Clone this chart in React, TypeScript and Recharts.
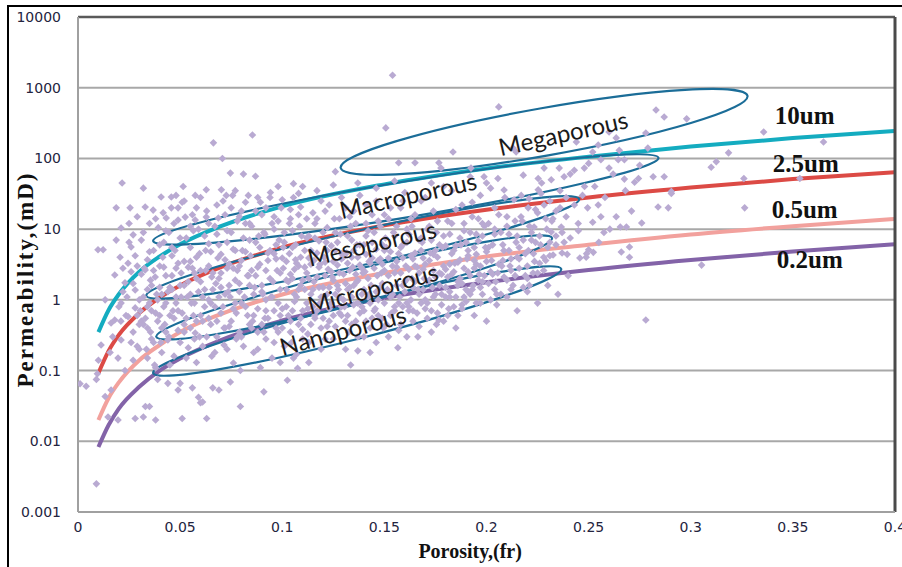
import React from "react";
import {
  ComposedChart,
  Line,
  Scatter,
  XAxis,
  YAxis,
  ZAxis,
  CartesianGrid,
  ReferenceLine,
  ReferenceDot,
  Label,
} from "recharts";

// axis ticks
const xTicks = [0, 0.05, 0.1, 0.15, 0.2, 0.25, 0.3, 0.35, 0.4];
const yTicks = [0.001, 0.01, 0.1, 1, 10, 100, 1000, 10000];

// pore-throat radius curves, permeability (mD) read at these porosities
const curveX = [0.01, 0.015, 0.02, 0.03, 0.04, 0.05, 0.07, 0.1, 0.15, 0.2, 0.25, 0.3, 0.35, 0.4];
const k10um = [0.35, 0.72, 1.2, 2.5, 4.1, 6.1, 11, 21, 43, 72, 106, 147, 194, 245];
const k2_5um = [0.092, 0.19, 0.32, 0.65, 1.08, 1.6, 2.9, 5.5, 11.3, 18.8, 28, 38.7, 51, 64];
const k0_5um = [0.02, 0.041, 0.068, 0.14, 0.23, 0.35, 0.63, 1.19, 2.4, 4.1, 6.0, 8.4, 11, 13.9];
const k0_2um = [0.0083, 0.017, 0.029, 0.059, 0.1, 0.148, 0.27, 0.51, 1.06, 1.77, 2.64, 3.66, 4.83, 6.1];

const curveNames = ["10um", "2.5um", "0.5um", "0.2um"];
const curveColors = ["#14acc0", "#dc4a45", "#f2a19d", "#8363a8"];
const curveLabelX = [0.3558, 0.3563, 0.3558, 0.3583];
const curveLabelK = [399, 86, 18.7, 3.67];

// rock type zones: ellipse tips (porosity, mD)
const zoneNames = ["Megaporous", "Macroporous", "Mesoporous", "Microporous", "Nanoporous"];
const zoneStart = [[0.1286, 73.4], [0.0368, 6.8], [0.0334, 1.14], [0.0383, 0.3], [0.0368, 0.092]];
const zoneEnd = [[0.3278, 766], [0.2842, 102], [0.2454, 26.7], [0.2321, 7.5], [0.2366, 2.74]];
const zoneLabelPos = [[0.2375, 230], [0.1615, 30.5], [0.1438, 6.4], [0.1443, 1.47], [0.1296, 0.375]];
const zoneAngle = [-12.5, -12.5, -13, -15, -15];

// core samples [porosity, permeability mD]
const samplesA = [
  [0.001, 0.065], [0.004, 0.06], [0.009, 0.0025], [0.009, 0.075], [0.0095, 0.09], [0.01, 0.14],
  [0.0098, 5.1], [0.0123, 5.1], [0.0113, 0.23], [0.0133, 1.0], [0.0133, 0.043], [0.0147, 0.022],
  [0.0157, 0.18], [0.0162, 0.47], [0.0162, 0.053], [0.017, 0.3], [0.018, 0.52], [0.018, 2.25],
  [0.0187, 7], [0.0187, 20], [0.0196, 0.15], [0.0196, 0.02], [0.02, 0.8], [0.0206, 4],
  [0.0211, 10.4], [0.0211, 0.9], [0.0211, 0.27], [0.0216, 45], [0.022, 1.3], [0.023, 1.74],
  [0.023, 0.1], [0.0235, 0.6], [0.0245, 3.3], [0.0245, 0.58], [0.025, 12], [0.0255, 20],
  [0.026, 5.6], [0.026, 2.5], [0.027, 8.3], [0.027, 0.14], [0.027, 0.35], [0.028, 1.38],
  [0.028, 0.77], [0.028, 0.021], [0.029, 15], [0.029, 3], [0.029, 0.22], [0.03, 1.0], [0.03, 0.45],
];
const samplesB = [
  [0.031, 7], [0.031, 0.5], [0.032, 38], [0.032, 1.1], [0.032, 0.022], [0.0329, 20.6], [0.0329, 2.65],
  [0.033, 0.031], [0.0335, 0.2], [0.034, 3.7], [0.034, 0.8], [0.035, 0.031], [0.035, 12], [0.0355, 0.35],
  [0.036, 1.6], [0.0368, 18.6], [0.037, 5], [0.0375, 0.12], [0.0378, 2.1], [0.038, 0.02], [0.038, 0.65],
  [0.039, 0.075], [0.0393, 10.5], [0.04, 3], [0.0405, 0.25], [0.0407, 28.5], [0.041, 1.2], [0.0417, 17],
  [0.042, 6.5], [0.0425, 0.45], [0.043, 2.2], [0.0432, 14.4], [0.044, 0.27], [0.044, 0.066], [0.0445, 9],
  [0.045, 1.5], [0.0457, 28.5], [0.0457, 20], [0.046, 4.2], [0.0465, 0.7], [0.047, 0.16], [0.048, 30],
  [0.048, 2.8], [0.049, 20], [0.049, 13.5], [0.049, 0.37], [0.049, 0.053], [0.05, 0.066], [0.05, 7.5],
  [0.0505, 1.1], [0.051, 0.021], [0.0515, 40], [0.052, 3.5], [0.0525, 14.8], [0.053, 0.55], [0.054, 0.21],
  [0.054, 1.8], [0.055, 5.5], [0.0555, 0.9], [0.056, 0.057], [0.0565, 9.5], [0.057, 2.4], [0.0574, 30],
  [0.0574, 13.5], [0.0574, 0.34], [0.058, 20], [0.058, 0.13], [0.059, 0.042], [0.059, 1.3], [0.0595, 4.5],
  [0.06, 0.035], [0.06, 0.6],
];
const samplesC = [
  [0.061, 0.036], [0.062, 8], [0.0625, 2.6], [0.063, 0.021], [0.063, 0.3], [0.0628, 36], [0.0628, 14.8],
  [0.064, 1.0], [0.065, 4.8], [0.0655, 0.16], [0.0663, 166], [0.066, 0.057], [0.067, 11], [0.0675, 1.7],
  [0.068, 0.5], [0.0687, 14.4], [0.069, 0.053], [0.069, 6], [0.07, 2.4], [0.0702, 36], [0.0707, 100],
  [0.071, 0.8], [0.0715, 0.23], [0.072, 3.7], [0.0726, 30], [0.073, 9.5], [0.0735, 1.3], [0.074, 0.42],
  [0.0746, 62], [0.0746, 0.069], [0.075, 20], [0.0757, 30], [0.0761, 0.128], [0.076, 5.2], [0.077, 1.9],
  [0.0775, 0.65], [0.078, 13], [0.079, 3], [0.0795, 0.031], [0.0795, 0.1], [0.08, 0.3], [0.081, 60],
  [0.081, 7.5], [0.0815, 1.1], [0.082, 24], [0.083, 2.2], [0.0834, 30], [0.084, 0.45], [0.0845, 4.2],
  [0.0854, 214], [0.085, 11], [0.086, 0.18], [0.0865, 1.5], [0.0869, 56], [0.087, 6.5], [0.088, 0.75],
  [0.0893, 24], [0.0893, 0.11], [0.089, 3.2], [0.09, 16], [0.0905, 1.2], [0.091, 0.05], [0.091, 0.35],
  [0.0915, 8.5], [0.092, 2.6], [0.093, 0.55], [0.0942, 33], [0.094, 5], [0.095, 12], [0.0955, 1.8],
  [0.096, 0.25], [0.097, 3.8], [0.098, 40], [0.098, 0.9], [0.0985, 7], [0.099, 0.13], [0.0995, 20],
];
const samplesD = [
  [0.1, 0.4], [0.1005, 2.8], [0.101, 9], [0.1025, 0.073], [0.102, 1.4], [0.103, 0.6], [0.1035, 4.5],
  [0.104, 14], [0.1045, 0.25], [0.105, 2], [0.1055, 44], [0.1055, 28], [0.1055, 0.15], [0.106, 0.95],
  [0.1065, 6], [0.107, 3.3], [0.1075, 0.108], [0.108, 0.45], [0.1085, 11], [0.109, 20.6], [0.109, 1.6],
  [0.11, 40], [0.11, 0.7], [0.111, 5], [0.112, 2.4], [0.1125, 0.33], [0.113, 0.13], [0.113, 8],
  [0.114, 1.2], [0.115, 17], [0.1155, 3.6], [0.116, 0.55], [0.117, 2.1], [0.118, 6.8], [0.1185, 0.9],
  [0.119, 25], [0.12, 1.5], [0.1205, 4], [0.121, 0.28], [0.122, 10.5], [0.1225, 2.7], [0.123, 0.75],
  [0.124, 5.8], [0.125, 1.9], [0.1255, 14], [0.126, 65], [0.126, 0.42], [0.127, 3.1], [0.128, 1.1],
  [0.1285, 8.5], [0.129, 0.6], [0.13, 2.3], [0.131, 20], [0.1315, 4.6], [0.132, 1.4], [0.1325, 0.35],
  [0.1335, 0.12], [0.134, 7], [0.1345, 2.9], [0.135, 0.85], [0.136, 12], [0.1365, 1.8], [0.137, 0.19],
  [0.137, 4], [0.138, 30], [0.139, 1.2], [0.14, 6], [0.1405, 2.5], [0.141, 0.5], [0.142, 9.5],
  [0.1425, 3.5], [0.143, 0.18], [0.1435, 1.6], [0.144, 16], [0.145, 0.7], [0.146, 5.2], [0.1465, 2.2],
  [0.147, 1], [0.148, 11], [0.149, 3.2], [0.1495, 0.4],
];
const samplesE = [
  [0.1505, 7.5], [0.1507, 270], [0.151, 1.3], [0.152, 3.9], [0.153, 20], [0.1535, 0.65], [0.154, 1500],
  [0.155, 2.4], [0.156, 11], [0.1566, 0.21], [0.157, 87], [0.157, 0.37], [0.158, 5.5], [0.159, 1.6],
  [0.16, 33], [0.1605, 3], [0.161, 0.9], [0.162, 8.5], [0.163, 14], [0.1635, 2], [0.164, 0.5],
  [0.165, 87], [0.165, 4.6], [0.1664, 0.3], [0.167, 1.2], [0.168, 25], [0.1685, 6.5], [0.169, 2.7],
  [0.17, 0.75], [0.171, 10], [0.172, 3.6], [0.173, 45], [0.1735, 1.5], [0.174, 18], [0.175, 5],
  [0.1755, 0.45], [0.1767, 87], [0.1767, 0.52], [0.1777, 73], [0.178, 2.3], [0.179, 8], [0.18, 1.1],
  [0.181, 13], [0.182, 3.2], [0.183, 35], [0.1836, 123], [0.184, 0.8], [0.185, 5.8], [0.186, 0.6],
  [0.187, 2], [0.188, 22], [0.189, 9.5], [0.19, 1.4], [0.191, 4.2], [0.192, 55], [0.1924, 73],
  [0.193, 15], [0.194, 2.8], [0.195, 0.9], [0.196, 6.8], [0.197, 30], [0.198, 1.8], [0.1988, 55], [0.199, 11],
];
const samplesF = [
  [0.2, 3.5], [0.201, 12], [0.202, 38], [0.202, 1.0], [0.203, 6], [0.204, 20], [0.2045, 1.8],
  [0.2056, 52], [0.206, 535], [0.207, 9], [0.2075, 3], [0.2086, 35.8], [0.2086, 2.1], [0.21, 15],
  [0.211, 5], [0.212, 1.4], [0.213, 140], [0.2135, 26], [0.2145, 123], [0.215, 8], [0.216, 2.8],
  [0.2169, 15], [0.218, 58], [0.219, 4.5], [0.2204, 20], [0.2209, 27], [0.221, 1.6], [0.2228, 2.4],
  [0.2233, 10.7], [0.224, 6.5], [0.2253, 52], [0.2253, 36], [0.226, 3.3], [0.2267, 32], [0.2282, 73],
  [0.2282, 22], [0.229, 14], [0.23, 5.5], [0.2317, 50], [0.2317, 9.1], [0.2326, 4.3], [0.234, 18],
  [0.2356, 73], [0.2366, 10.7], [0.237, 4.6], [0.238, 55], [0.239, 28], [0.2395, 4.4], [0.241, 7.5],
  [0.243, 68], [0.244, 171], [0.2449, 12], [0.2457, 3.9], [0.2479, 73], [0.248, 40], [0.249, 4.5], [0.2495, 20],
];
const samplesG = [
  [0.2488, 4.0], [0.25, 5.1], [0.2523, 4.7], [0.252, 123], [0.252, 12.5], [0.2547, 155], [0.2547, 22],
  [0.256, 96], [0.256, 15], [0.2575, 9], [0.26, 237], [0.26, 73], [0.2604, 10], [0.2635, 195],
  [0.2635, 15], [0.2645, 96], [0.2655, 10.7], [0.266, 4.75], [0.2675, 51], [0.2675, 96], [0.2685, 10.7],
  [0.27, 4], [0.27, 5.6], [0.2725, 46], [0.2744, 52], [0.276, 12.2], [0.278, 229], [0.278, 0.52],
  [0.2816, 55], [0.283, 485], [0.284, 20.6], [0.287, 386], [0.287, 55], [0.289, 20], [0.2905, 34],
  [0.2905, 32], [0.298, 363], [0.3053, 3.1], [0.31, 75], [0.3125, 90], [0.3185, 120], [0.326, 52],
  [0.3264, 20], [0.3357, 237], [0.3534, 52], [0.365, 171],
];
// dense middle of the cloud
const samplesCore = [
  [0.08, 0.9], [0.082, 4.8], [0.084, 1.6], [0.086, 0.6], [0.088, 2.9], [0.09, 0.45], [0.092, 1.0],
  [0.094, 2], [0.096, 0.7], [0.097, 6], [0.099, 1.4], [0.1, 3.9], [0.102, 0.8], [0.104, 2.3],
  [0.105, 5.5], [0.106, 1.2], [0.108, 3], [0.109, 0.55], [0.11, 1.9], [0.112, 0.9], [0.113, 3.9],
  [0.114, 0.45], [0.115, 1.4], [0.116, 7.5], [0.117, 0.7], [0.118, 2.9], [0.119, 1.1], [0.12, 0.55],
  [0.121, 2.2], [0.122, 5], [0.123, 1.5], [0.124, 0.9], [0.125, 3.5], [0.126, 1.2], [0.127, 6.5],
  [0.128, 2.4], [0.129, 0.8], [0.13, 4], [0.131, 1.7], [0.132, 0.6], [0.133, 2.6], [0.134, 1.1],
  [0.135, 5], [0.136, 0.5], [0.137, 1.9], [0.138, 3.1], [0.139, 0.8], [0.14, 1.4], [0.141, 4.4],
  [0.142, 2], [0.143, 0.9], [0.144, 6.5], [0.145, 2.8], [0.146, 1.3], [0.147, 0.6], [0.148, 3.8],
  [0.149, 1.7], [0.15, 0.9], [0.151, 5.5], [0.152, 2.2], [0.153, 1.1], [0.154, 3], [0.155, 0.7],
  [0.156, 1.6], [0.157, 4.5], [0.158, 2.4], [0.159, 0.8], [0.16, 1.3], [0.161, 6.5], [0.162, 2.7],
  [0.163, 1.0], [0.164, 3.8], [0.165, 1.8], [0.166, 0.65], [0.167, 2.4], [0.168, 5], [0.169, 1.4],
  [0.17, 3.2], [0.171, 0.9], [0.172, 1.9], [0.173, 7], [0.174, 2.6], [0.175, 1.2], [0.176, 4],
  [0.177, 1.6], [0.178, 0.85], [0.179, 3], [0.18, 5.8], [0.181, 2.1], [0.182, 1.3], [0.183, 4.5],
  [0.184, 2.5], [0.185, 1.1], [0.186, 3.4], [0.187, 7.5], [0.188, 1.7], [0.189, 2.8], [0.19, 0.95],
  [0.191, 5], [0.192, 2.2], [0.193, 1.4], [0.194, 3.6], [0.195, 8.5], [0.196, 1.9], [0.197, 3],
  [0.198, 1.2], [0.2, 4.8], [0.202, 2.5], [0.204, 1.4], [0.206, 3.2], [0.208, 6], [0.21, 1.9],
  [0.212, 3.8], [0.214, 2.2], [0.216, 5.5], [0.218, 1.5], [0.22, 3], [0.222, 7], [0.225, 2.4],
  [0.228, 4], [0.231, 6.5],
];
const samplesLowCore = [
  [0.03, 0.2], [0.032, 0.45], [0.034, 0.15], [0.035, 0.9], [0.036, 0.28], [0.038, 0.11], [0.039, 0.5],
  [0.04, 1.5], [0.041, 0.18], [0.042, 0.8], [0.043, 0.35], [0.045, 0.12], [0.046, 2.2], [0.047, 0.55],
  [0.048, 1.1], [0.05, 0.25], [0.051, 0.65], [0.052, 1.6], [0.053, 0.15], [0.055, 0.4], [0.056, 2.8],
  [0.057, 0.9], [0.058, 0.5], [0.06, 1.8], [0.061, 0.22], [0.062, 0.8], [0.064, 3], [0.065, 0.45],
  [0.066, 1.4], [0.068, 0.3], [0.069, 2], [0.07, 0.65], [0.072, 1.2], [0.073, 0.2], [0.074, 3.2],
  [0.075, 0.5], [0.077, 0.9], [0.078, 2.6], [0.079, 0.35],
];
const samplesFillLow = [
  [0.021, 0.5], [0.022, 2.8], [0.024, 1.1], [0.025, 6.5], [0.026, 0.25], [0.027, 1.7], [0.028, 4.2],
  [0.029, 0.6], [0.031, 2.3], [0.032, 9], [0.033, 0.55], [0.034, 1.4], [0.035, 4.8], [0.036, 0.7],
  [0.037, 2.6], [0.038, 14], [0.039, 1.0], [0.04, 6], [0.041, 0.4], [0.042, 2.9], [0.043, 9.5],
  [0.044, 1.3], [0.045, 0.6], [0.046, 5.5], [0.047, 12], [0.048, 0.9], [0.049, 3.3], [0.05, 1.6],
  [0.051, 24], [0.052, 0.45], [0.053, 7.5], [0.054, 2.9], [0.055, 1.2], [0.056, 16], [0.057, 0.28],
  [0.058, 4], [0.059, 10], [0.06, 2.6], [0.061, 0.5], [0.062, 1.4], [0.063, 18], [0.064, 6.2],
  [0.065, 0.9], [0.066, 2.4], [0.067, 0.18], [0.068, 8.5], [0.069, 1.1], [0.07, 4.4], [0.071, 25],
  [0.072, 0.4], [0.073, 2.8], [0.074, 1.6], [0.075, 9], [0.076, 0.75], [0.077, 5], [0.078, 0.3],
  [0.079, 15], [0.079, 1.3],
];
const samplesFillMid = [
  [0.08, 3.6], [0.081, 0.22], [0.082, 12], [0.083, 0.6], [0.084, 7], [0.085, 2.6], [0.086, 1.2],
  [0.087, 18], [0.088, 0.35], [0.089, 5.5], [0.09, 1.6], [0.091, 9], [0.092, 0.7], [0.093, 3.6],
  [0.094, 28], [0.095, 1.1], [0.096, 4.5], [0.097, 0.4], [0.098, 13], [0.099, 2.4], [0.1, 0.75],
  [0.101, 6.5], [0.102, 3.5], [0.103, 1.8], [0.104, 0.35], [0.105, 9.5], [0.106, 2.7], [0.107, 1.1],
  [0.108, 16], [0.109, 4], [0.11, 0.28], [0.111, 1.4], [0.112, 7.5], [0.113, 2], [0.114, 3.2],
  [0.115, 0.8], [0.116, 12], [0.117, 4.6], [0.118, 1.5], [0.119, 0.4], [0.12, 9], [0.121, 3.4],
  [0.122, 1.2], [0.123, 22], [0.124, 2.5], [0.125, 0.6], [0.126, 5], [0.127, 1.6], [0.128, 14],
  [0.129, 3.8], [0.13, 1], [0.131, 0.5], [0.132, 8], [0.133, 1.5], [0.134, 4], [0.135, 18],
  [0.136, 2.3], [0.137, 0.9], [0.138, 6], [0.139, 2.8], [0.14, 0.3], [0.141, 12], [0.142, 1.1],
  [0.143, 3.3], [0.144, 0.55], [0.145, 9], [0.146, 25], [0.147, 3.6], [0.148, 1.5], [0.149, 6],
  [0.15, 2.6], [0.151, 0.45], [0.152, 14], [0.153, 4.8], [0.154, 1.2], [0.155, 8], [0.156, 3.5],
  [0.157, 0.9], [0.158, 20], [0.159, 3.9], [0.16, 1.8],
];
const samplesFillHigh = [
  [0.161, 10], [0.162, 0.8], [0.163, 4.2], [0.164, 1.5], [0.165, 16], [0.166, 2.9], [0.167, 7],
  [0.168, 0.9], [0.169, 3.9], [0.17, 28], [0.171, 1.8], [0.172, 11], [0.173, 0.7], [0.174, 4.4],
  [0.175, 2.1], [0.176, 13], [0.177, 6], [0.178, 1.2], [0.179, 40], [0.18, 2.7], [0.181, 0.6],
  [0.182, 8.5], [0.183, 2.3], [0.184, 5], [0.185, 19], [0.186, 1.6], [0.187, 3.7], [0.188, 0.85],
  [0.189, 12], [0.19, 6.5], [0.191, 2.5], [0.192, 1.2], [0.193, 24], [0.194, 5.5], [0.195, 3.2],
  [0.196, 14], [0.197, 1.5], [0.198, 8], [0.199, 2.2], [0.2, 45], [0.201, 5.5], [0.203, 2.3],
  [0.204, 10], [0.205, 1.2], [0.206, 16], [0.208, 3.6], [0.209, 28], [0.211, 8.5], [0.212, 2.6],
  [0.214, 13], [0.215, 4], [0.217, 30], [0.218, 7], [0.22, 2], [0.221, 11], [0.223, 4.5],
  [0.224, 19], [0.226, 8], [0.227, 45], [0.229, 3.6], [0.231, 25], [0.232, 13], [0.234, 6],
  [0.236, 35], [0.237, 9], [0.239, 15], [0.241, 60], [0.243, 22], [0.245, 9.5], [0.247, 30],
  [0.25, 85], [0.253, 40], [0.255, 6.5], [0.258, 28], [0.262, 60], [0.265, 130], [0.268, 35],
  [0.271, 18], [0.275, 80], [0.279, 140],
];
const samplesDenseBand = [
  [0.0855, 0.5], [0.087, 2.2], [0.0885, 8], [0.09, 1.3], [0.0915, 0.55], [0.093, 4.6], [0.0945, 1.1],
  [0.096, 10], [0.0975, 2.6], [0.099, 0.6], [0.1005, 5.5], [0.102, 1.9], [0.1035, 12], [0.105, 0.7],
  [0.1065, 3.7], [0.108, 1.4], [0.1095, 8], [0.111, 2.9], [0.1125, 0.75], [0.114, 5], [0.1155, 1.8],
  [0.117, 14], [0.1185, 3.2], [0.12, 1.1], [0.1215, 6.5], [0.123, 0.5], [0.1245, 2.1], [0.126, 9],
  [0.1275, 1.4], [0.129, 4.5], [0.1305, 0.8], [0.132, 3.3], [0.1335, 11], [0.135, 1.6], [0.1365, 6],
  [0.138, 0.65], [0.1395, 2.4], [0.141, 8], [0.1425, 1.2], [0.144, 3.9], [0.1455, 0.75], [0.147, 13],
  [0.1485, 2.4], [0.15, 5], [0.1515, 1.4], [0.153, 0.6], [0.1545, 9], [0.156, 2.9], [0.1575, 1.1],
  [0.159, 6], [0.1605, 1.9], [0.162, 0.7], [0.1635, 11], [0.165, 3], [0.1665, 1.4], [0.168, 7.5],
  [0.1695, 2], [0.171, 0.55], [0.1725, 4.6], [0.174, 1.1], [0.1755, 9], [0.177, 2.4], [0.1785, 5.5],
  [0.18, 1.5], [0.1815, 0.75], [0.183, 12], [0.1845, 3.3], [0.186, 1.8], [0.1875, 6], [0.189, 1.1],
  [0.1905, 3.8], [0.192, 9], [0.1935, 1.6], [0.195, 4.4], [0.1965, 2.3], [0.198, 12], [0.1995, 5.5],
  [0.201, 1.7], [0.2025, 3.6], [0.204, 8.5], [0.2055, 2.4], [0.207, 1.2], [0.2085, 5], [0.21, 11],
  [0.2115, 3], [0.213, 1.6], [0.2145, 6.5], [0.216, 3.8], [0.2175, 13], [0.219, 2.2], [0.2205, 5],
  [0.222, 9], [0.2235, 3.5], [0.225, 17], [0.2265, 6], [0.228, 2.6], [0.2295, 10], [0.231, 4.2],
  [0.2325, 14], [0.234, 8], [0.236, 20], [0.238, 6.5],
];
const samplesLowBand = [
  [0.0305, 0.7], [0.0325, 2.8], [0.034, 0.4], [0.0355, 1.9], [0.037, 0.25], [0.0385, 1.2], [0.04, 0.6],
  [0.0415, 4], [0.043, 0.9], [0.0445, 0.3], [0.046, 1.4], [0.0475, 5], [0.049, 0.7], [0.0505, 2.4],
  [0.052, 0.35], [0.0535, 1.1], [0.055, 3.5], [0.0565, 0.6], [0.058, 2], [0.0595, 0.3], [0.061, 1.1],
  [0.0625, 5], [0.064, 0.55], [0.0655, 2.1], [0.067, 0.8], [0.0685, 3.9], [0.07, 1.5], [0.0715, 0.4],
  [0.073, 6.5], [0.0745, 1.1], [0.076, 2.8], [0.0775, 0.28], [0.079, 1.7], [0.0805, 5], [0.082, 0.8],
  [0.0835, 2.2], [0.085, 0.4],
];
const samplesUpperBand = [
  [0.052, 25], [0.055, 11], [0.06, 28], [0.064, 12], [0.068, 22], [0.072, 16], [0.077, 35], [0.08, 18],
  [0.084, 12], [0.088, 28], [0.092, 20], [0.096, 15], [0.1, 26], [0.104, 19], [0.108, 32], [0.112, 14],
  [0.117, 35], [0.121, 18], [0.125, 42], [0.129, 28], [0.133, 15], [0.137, 45], [0.141, 22], [0.146, 38],
  [0.15, 16], [0.155, 48], [0.159, 25],
];
const samplesLowerEdge = [
  [0.088, 0.2], [0.092, 0.28], [0.095, 0.15], [0.098, 0.35], [0.101, 0.22], [0.104, 0.5], [0.107, 0.17],
  [0.11, 0.38], [0.113, 0.25], [0.116, 0.6], [0.119, 0.2], [0.122, 0.42], [0.125, 0.28], [0.128, 0.65],
  [0.131, 0.2], [0.134, 0.45], [0.137, 0.3], [0.14, 0.7], [0.143, 0.4], [0.146, 0.25], [0.149, 0.55],
  [0.152, 0.3], [0.155, 0.8], [0.158, 0.45], [0.161, 0.3], [0.164, 0.7], [0.167, 0.42], [0.17, 1.0],
  [0.173, 0.35], [0.176, 0.65], [0.179, 0.5], [0.182, 1.1], [0.185, 0.4], [0.188, 0.75], [0.191, 1.3],
  [0.194, 0.6], [0.197, 0.9], [0.2, 0.5], [0.205, 0.85], [0.21, 1.1], [0.215, 0.7], [0.22, 1.3],
  [0.225, 0.9], [0.23, 1.6], [0.235, 1.2], [0.24, 2.2],
];

const sampleData = [
  samplesA, samplesB, samplesC, samplesD, samplesE, samplesF, samplesG,
  samplesCore, samplesLowCore, samplesFillLow, samplesFillMid, samplesFillHigh,
  samplesDenseBand, samplesLowBand, samplesUpperBand, samplesLowerEdge,
]
  .flat()
  .map(([x, k]) => ({ x, k }));

const curveData = [k10um, k2_5um, k0_5um, k0_2um].map((ks) =>
  curveX.map((x, i) => ({ x, k: ks[i] }))
);

const tickStyle = { fontFamily: "DejaVu Sans", fontSize: 14, fill: "#24243e" };

// small lavender diamond used for each sample
const SampleMark = (p: any) => {
  if (p.cx == null || p.cy == null) return null;
  const s = 3.8;
  return (
    <path
      d={`M${p.cx},${p.cy - s}L${p.cx + s},${p.cy}L${p.cx},${p.cy + s}L${p.cx - s},${p.cy}Z`}
      fill="#b9aad2"
    />
  );
};

// ellipse drawn between two tips given by the reference segment
const zoneShape = (ratio: number) => (p: any) => {
  const { x1, y1, x2, y2 } = p;
  if ([x1, y1, x2, y2].some((v) => v == null || isNaN(v))) return null;
  const cx = (x1 + x2) / 2;
  const cy = (y1 + y2) / 2;
  const rx = Math.hypot(x2 - x1, y2 - y1) / 2;
  const ang = (Math.atan2(y2 - y1, x2 - x1) * 180) / Math.PI;
  return (
    <ellipse
      cx={cx}
      cy={cy}
      rx={rx}
      ry={rx * ratio}
      transform={`rotate(${ang} ${cx} ${cy})`}
      fill="none"
      stroke="#1b6d98"
      strokeWidth={2.2}
    />
  );
};
const zoneRatio = [0.115, 0.07, 0.078, 0.083, 0.083];

const zoneText = (text: string, angle: number) => (p: any) =>
  p.cx == null ? null : (
    <text
      x={p.cx}
      y={p.cy}
      transform={`rotate(${angle} ${p.cx} ${p.cy})`}
      textAnchor="middle"
      dominantBaseline="central"
      fontFamily="Lato"
      fontSize={24}
      fill="#1a1a1a"
    >
      {text}
    </text>
  );

const curveText = (text: string) => (p: any) =>
  p.cx == null ? null : (
    <text
      x={p.cx}
      y={p.cy}
      textAnchor="middle"
      dominantBaseline="central"
      fontFamily="Liberation Serif"
      fontWeight="bold"
      fontSize={25}
      fill="#111"
    >
      {text}
    </text>
  );

export default function App() {
  return (
    <div style={{ position: "absolute", left: 0, top: 0, width: 902, height: 567, background: "#fff" }}>
      <div
        style={{
          position: "absolute",
          left: 7,
          top: 5,
          right: 0,
          bottom: 0,
          borderLeft: "2px solid #000",
          borderTop: "2px solid #000",
        }}
      />
      <div style={{ position: "absolute", left: 0, top: 0 }}>
        <ComposedChart width={902} height={567} margin={{ top: 17, right: 7, bottom: 0, left: 0 }}>
          <CartesianGrid vertical={false} stroke="#a8a8a8" strokeWidth={2} />
          <XAxis
            type="number"
            dataKey="x"
            domain={[0, 0.4]}
            ticks={xTicks}
            interval={0}
            height={55}
            tickLine={false}
            tickSize={0}
            tickMargin={10}
            axisLine={{ stroke: "#a0a0a0", strokeWidth: 2 }}
            tick={tickStyle}
            allowDataOverflow
          >
            <Label
              content={(p: any) => {
                const vb = p.viewBox || {};
                return (
                  <text
                    x={vb.x + vb.width * 0.48}
                    y={vb.y + vb.height - 9}
                    textAnchor="middle"
                    fontFamily="Liberation Serif"
                    fontWeight="bold"
                    fontSize={20}
                    fill="#111"
                  >
                    Porosity,(fr)
                  </text>
                );
              }}
            />
          </XAxis>
          <YAxis
            type="number"
            scale="log"
            domain={[0.001, 10000]}
            ticks={yTicks}
            interval={0}
            width={78}
            tickLine={false}
            tickSize={0}
            tickMargin={17}
            axisLine={{ stroke: "#a0a0a0", strokeWidth: 2 }}
            tick={tickStyle}
            tickFormatter={(v: number) => String(v)}
            allowDataOverflow
          >
            <Label
              content={(p: any) => {
                const vb = p.viewBox || {};
                const cx = vb.x + 25;
                const cy = vb.y + vb.height / 2 + 15;
                return (
                  <text
                    x={cx}
                    y={cy}
                    transform={`rotate(-90 ${cx} ${cy})`}
                    textAnchor="middle"
                    dominantBaseline="central"
                    fontFamily="Liberation Serif"
                    fontWeight="bold"
                    fontSize={23}
                    letterSpacing={2}
                    fill="#111"
                  >
                    Permeability,(mD)
                  </text>
                );
              }}
            />
          </YAxis>
          <ZAxis range={[30, 30]} />
          {curveData.map((d, i) => (
            <Line
              key={curveNames[i]}
              data={d}
              dataKey="k"
              type="monotone"
              stroke={curveColors[i]}
              strokeWidth={4}
              dot={false}
              activeDot={false}
              isAnimationActive={false}
            />
          ))}
          <Scatter data={sampleData} dataKey="k" shape={SampleMark} isAnimationActive={false} />
          <ReferenceLine y={10000} stroke="#5a5a5a" strokeWidth={2.5} />
          <ReferenceLine x={0.4} stroke="#4a4a4a" strokeWidth={3} />
          {zoneNames.map((name, i) => (
            <ReferenceLine
              key={name}
              segment={[
                { x: zoneStart[i][0], y: zoneStart[i][1] },
                { x: zoneEnd[i][0], y: zoneEnd[i][1] },
              ]}
              shape={zoneShape(zoneRatio[i])}
            />
          ))}
          {zoneNames.map((name, i) => (
            <ReferenceDot
              key={name + "-t"}
              x={zoneLabelPos[i][0]}
              y={zoneLabelPos[i][1]}
              r={0}
              shape={zoneText(name, zoneAngle[i])}
            />
          ))}
          {curveNames.map((name, i) => (
            <ReferenceDot
              key={name + "-c"}
              x={curveLabelX[i]}
              y={curveLabelK[i]}
              r={0}
              shape={curveText(name)}
            />
          ))}
        </ComposedChart>
      </div>
    </div>
  );
}
